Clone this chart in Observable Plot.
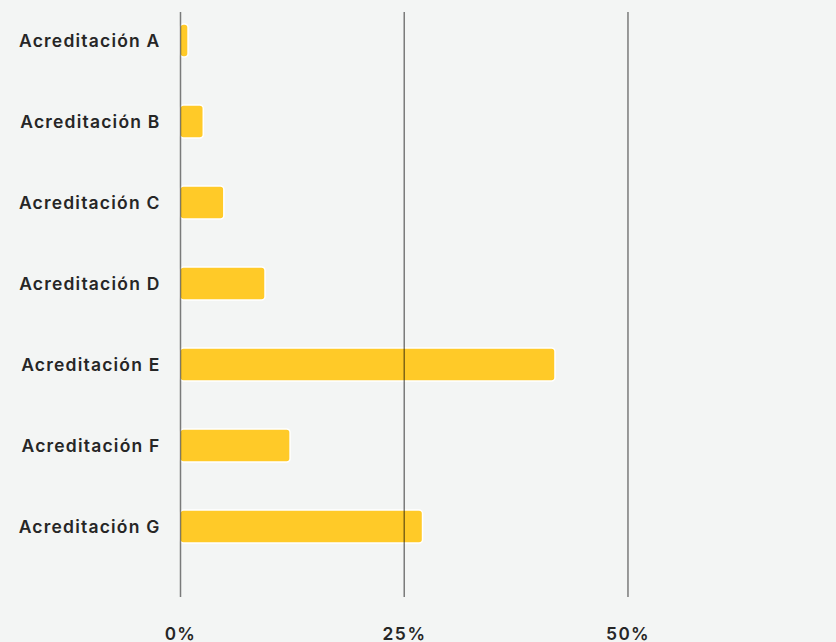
<!DOCTYPE html>
<html>
<head>
<meta charset="utf-8">
<script src="https://cdn.jsdelivr.net/npm/d3@7"></script>
<script src="https://cdn.jsdelivr.net/npm/@observablehq/plot@0.6"></script>
<style>
  html, body { margin: 0; padding: 0; background: #f3f5f4; }
  #chart svg { display: block; }
  #chart svg text { letter-spacing: 1.2px; }
</style>
</head>
<body>
<div id="chart"></div>
<script>
const categories = ["Acreditación A", "Acreditación B", "Acreditación C", "Acreditación D", "Acreditación E", "Acreditación F", "Acreditación G"];
const values = [0.9, 2.6, 4.9, 9.5, 41.9, 12.3, 27.1];
const xTicks = [0, 25, 50];
const xTickLabels = ["0%", "25%", "50%"];

const data = categories.map((c, i) => ({category: c, value: values[i]}));

const chart = Plot.plot({
  width: 836,
  height: 642,
  marginLeft: 180,
  marginRight: 0,
  marginTop: 12,
  marginBottom: 45,
  style: {background: "#f3f5f4", fontFamily: "Inter, sans-serif", color: "#262626"},
  x: {domain: [0, 73.3]},
  y: {domain: categories, paddingInner: 0.59, paddingOuter: 0.295, insetTop: -12, insetBottom: 30},
  marks: [
    Plot.barX(data, {x: "value", y: "category", fill: "#ffca28", stroke: "#ffffff", strokeWidth: 1.5, rx: 3.5}),
    Plot.ruleX(xTicks, {stroke: "#000", strokeOpacity: 0.5, strokeWidth: 1.5}),
    Plot.axisY({tickSize: 0, tickPadding: 20, fontSize: 17.5, fontWeight: 600, label: null}),
    Plot.axisX({ticks: xTicks, tickFormat: (d, i) => xTickLabels[i], tickSize: 0, tickPadding: 30, fontSize: 17.5, fontWeight: 600, label: null})
  ]
});
document.getElementById("chart").appendChild(chart);
</script>
</body>
</html>
